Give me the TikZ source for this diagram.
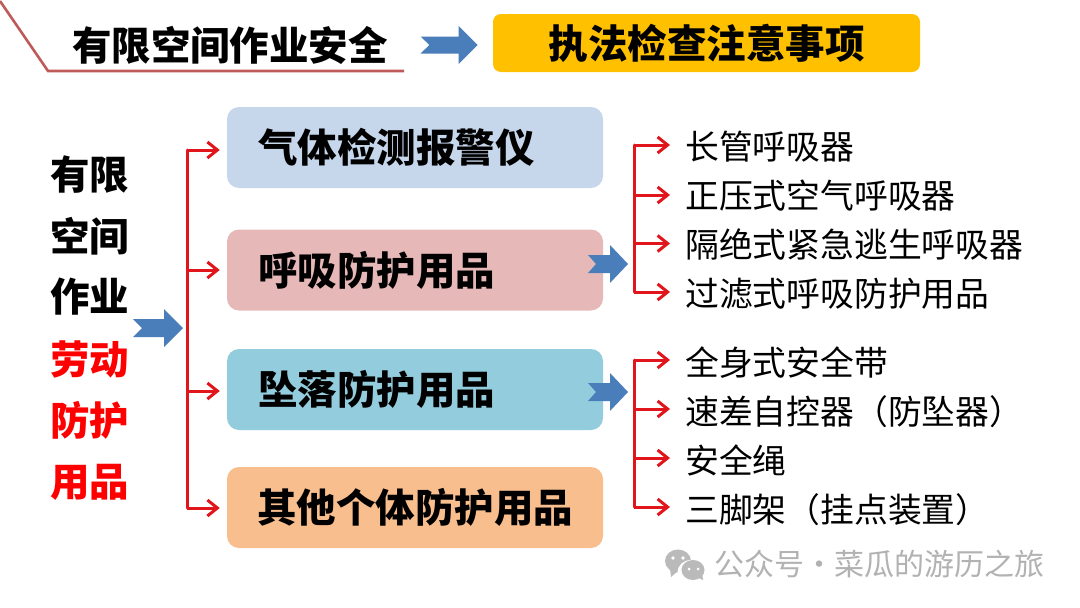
\documentclass[tikz,border=0pt]{standalone}
\usepackage{fontspec}
\setmainfont{Noto Sans CJK SC}
\usetikzlibrary{arrows.meta}
\definecolor{barred}{HTML}{E0161C}
\definecolor{arrowblue}{HTML}{4A7EBB}
\definecolor{titleline}{HTML}{BE5A58}
\definecolor{boxblue}{HTML}{C6D7EC}
\definecolor{boxpink}{HTML}{E6B9B8}
\definecolor{boxteal}{HTML}{93CDDD}
\definecolor{boxorange}{HTML}{F9BE8E}
\definecolor{boxyellow}{HTML}{FFC000}
\definecolor{wmgray}{HTML}{B2B2B2}
\tikzset{
  x=1pt,y=-1pt,
  catbox/.style={rounded corners=12pt,minimum width=376pt,minimum height=81pt,inner sep=0pt,font=\fontsize{39.5pt}{40pt}\selectfont\bfseries,anchor=center,text=black},
  headtext/.style={inner sep=0pt,font=\fontsize{39.5pt}{40pt}\selectfont\bfseries,text=black},
  sidetext/.style={inner sep=0pt,anchor=center,font=\fontsize{39.5pt}{40pt}\selectfont\bfseries,text=black},
  itemtext/.style={inner sep=0pt,anchor=west,font=\fontsize{33.8pt}{36pt}\selectfont,text=black},
  branch/.style={draw=barred,line width=3pt,-{Straight Barb[length=10pt,width=16pt,line width=3pt]}},
  trunk/.style={draw=barred,line width=3pt,line cap=round,line join=miter},
  wmtext/.style={inner sep=0pt,anchor=west,text=wmgray,font=\fontsize{30pt}{30pt}\selectfont},
  bigarrow/.pic={\fill[arrowblue] (-28,-8.5) -- (10,-8.5) -- (10,-19) -- (29,0) -- (10,19) -- (10,8.5) -- (-28,8.5) -- (-19,0) -- cycle;},
  shortarrow/.pic={\fill[arrowblue] (-20,-9) -- (2,-9) -- (2,-19) -- (20,0) -- (2,19) -- (2,9) -- (-20,9) -- (-12,0) -- cycle;},
  midarrow/.pic={\fill[arrowblue] (-25,-9) -- (6,-9) -- (6,-19) -- (25,0) -- (6,19) -- (6,9) -- (-25,9) -- (-16,0) -- cycle;},
}
\newcommand{\boxline}[1]{\raisebox{-2.5pt}{#1}}
\begin{document}
\begin{tikzpicture}
\useasboundingbox[fill=white] (0,0) rectangle (1080,608);
% header
\draw[titleline,line width=2.6pt,line join=miter] (0,1) -- (48,71) -- (404,71);
\node[headtext] (title) at (230,45) {有限空间作业安全};
\pic at (448.5,45) {bigarrow};
\node[rounded corners=8pt,fill=boxyellow,minimum width=427pt,minimum height=58pt,inner sep=0pt,font=\fontsize{39.5pt}{40pt}\selectfont\bfseries] (law) at (706.5,43) {\raisebox{-2pt}{执法检查注意事项}};
% left column
\node[sidetext] (s1) at (89.5,175) {有限};
\node[sidetext] (s2) at (89.5,236) {空间};
\node[sidetext] (s3) at (89.5,297) {作业};
\node[sidetext,text=red] (s4) at (89.5,359) {劳动};
\node[sidetext,text=red] (s5) at (89.5,420) {防护};
\node[sidetext,text=red] (s6) at (89.5,482) {用品};
% boxes
\node[catbox,fill=boxblue] (b1) at (415,147.5) {\boxline{\hspace*{3pt}气体检测报警仪\hspace*{40pt}}};
\node[catbox,fill=boxpink] (b2) at (415,270) {\boxline{\hspace*{2pt}呼吸防护用品\hspace*{79pt}}};
\node[catbox,fill=boxteal] (b3) at (415,389.5) {\boxline{\hspace*{2pt}坠落防护用品\hspace*{79pt}}};
\node[catbox,fill=boxorange] (b4) at (415,507.5) {\raisebox{-1.5pt}{其他个体防护用品}};
% left bracket
\coordinate (la) at (187,150);
\coordinate (lb) at (187,270);
\coordinate (lc) at (187,391);
\coordinate (ld) at (187,508);
\draw[trunk] (la) -- (ld);
\draw[branch] (la) -- ([xshift=-7pt,yshift=-2.5pt]b1.west);
\draw[branch] (lb) -- ([xshift=-7pt]b2.west);
\draw[branch] (lc) -- ([xshift=-7pt,yshift=-1.5pt]b3.west);
\draw[branch] (ld) -- ([xshift=-7pt,yshift=-0.5pt]b4.west);
\pic at (158,328) {midarrow};
% right items
\node[itemtext] (i1) at (685,147) {长管呼吸器};
\node[itemtext] (i2) at (685,196) {正压式空气呼吸器};
\node[itemtext] (i3) at (685,244.5) {隔绝式紧急逃生呼吸器};
\node[itemtext] (i4) at (685,294) {过滤式呼吸防护用品};
\node[itemtext] (i5) at (685,363) {全身式安全带};
\node[itemtext] (i6) at (685,411.5) {速差自控器（防坠器）};
\node[itemtext] (i7) at (685,460.5) {安全绳};
\node[itemtext] (i8) at (685,510) {三脚架（挂点装置）};
% right brackets
\coordinate (ra) at (634,145);
\coordinate (rb) at (634,195);
\coordinate (rc) at (634,243.5);
\coordinate (rd) at (634,292);
\draw[trunk] (ra) -- (rd);
\draw[branch] (ra) -- ([xshift=-15pt,yshift=2pt]i1.west);
\draw[branch] (rb) -- ([xshift=-15pt,yshift=1pt]i2.west);
\draw[branch] (rc) -- ([xshift=-15pt,yshift=1pt]i3.west);
\draw[branch] (rd) -- ([xshift=-15pt,yshift=2pt]i4.west);
\coordinate (re) at (634,360);
\coordinate (rf) at (634,409);
\coordinate (rg) at (634,458);
\coordinate (rh) at (634,507);
\draw[trunk] (re) -- (rh);
\draw[branch] (re) -- ([xshift=-15pt,yshift=3pt]i5.west);
\draw[branch] (rf) -- ([xshift=-15pt,yshift=2.5pt]i6.west);
\draw[branch] (rg) -- ([xshift=-15pt,yshift=2.5pt]i7.west);
\draw[branch] (rh) -- ([xshift=-15pt,yshift=3pt]i8.west);
\pic at (608,264) {shortarrow};
\pic at (608,392) {shortarrow};
% watermark
\fill[wmgray!90] (678,561) ellipse (13 and 11.5);
\fill[wmgray!90] (670,569) -- (671,577) -- (678,571) -- cycle;
\fill[white] (691,572) ellipse (13.5 and 12);
\fill[wmgray!90] (693,570) ellipse (11.5 and 10);
\fill[wmgray!90] (697,577) -- (703,580) -- (702,572) -- cycle;
\fill[white] (673,558) circle (1.8) (683,558) circle (1.8) (689,569) circle (1.5) (698,569) circle (1.5);
\node[wmtext] (wm) at (714,564) {公众号·菜瓜的游历之旅};
\end{tikzpicture}
\end{document}
